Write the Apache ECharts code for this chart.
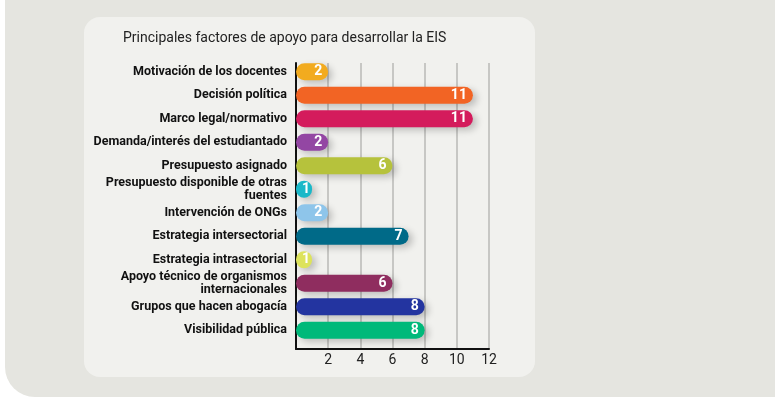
<!DOCTYPE html>
<html>
<head>
<meta charset="utf-8">
<script src="https://cdn.jsdelivr.net/npm/echarts@6/dist/echarts.min.js"></script>
<style>
  html, body { margin: 0; padding: 0; background: #fff; overflow: hidden; }
  .page { position: relative; width: 775px; height: 397px; overflow: hidden; }
  .outer { position: absolute; left: 5px; top: -40px; width: 820px; height: 437px; background: #e5e5e0; border-radius: 30px; }
  .panel { position: absolute; left: 84px; top: 17px; width: 451px; height: 360px; background: #f1f1ee; border-radius: 16px; }
  #chart { position: absolute; left: 0; top: 0; width: 775px; height: 397px; }
</style>
</head>
<body>
<div class="page">
  <div class="outer"></div>
  <div class="panel"></div>
  <div id="chart"></div>
</div>
<script>
// datos
const title = 'Principales factores de apoyo para desarrollar la EIS'
const categories = [
  'Motivación de los docentes',
  'Decisión política',
  'Marco legal/normativo',
  'Demanda/interés del estudiantado',
  'Presupuesto asignado',
  'Presupuesto disponible de otras\nfuentes',
  'Intervención de ONGs',
  'Estrategia intersectorial',
  'Estrategia intrasectorial',
  'Apoyo técnico de organismos\ninternacionales',
  'Grupos que hacen abogacía',
  'Visibilidad pública'
]
const values = [2, 11, 11, 2, 6, 1, 2, 7, 1, 6, 8, 8]
const barColors = [
  '#f2ab1f', '#f26424', '#d41b5c', '#9346a3', '#b6c23c', '#1ab8c8',
  '#8ec5ea', '#006a88', '#dde35c', '#8f2d5f', '#2334a0', '#00b97a'
]
const xTicks = [0, 2, 4, 6, 8, 10, 12]

const chart = echarts.init(document.getElementById('chart'), null, { renderer: 'canvas' })

const font = 'Roboto'
const xMin = xTicks[0]
const xMax = xTicks[xTicks.length - 1]

const option = {
  animation: false,
  backgroundColor: 'transparent',
  title: {
    text: title,
    left: 123,
    top: 31,
    padding: 0,
    textStyle: {
      fontFamily: font,
      fontSize: 14,
      fontWeight: 'normal',
      color: '#222'
    }
  },
  // grid 0: barras y categorías; grid 1: ejes y rejilla
  grid: [
    { left: 296, right: 286, top: 60, bottom: 55 },
    { left: 296, right: 286, top: 63, bottom: 48 }
  ],
  xAxis: [
    {
      gridIndex: 0,
      type: 'value',
      min: xMin,
      max: xMax,
      interval: 2,
      axisLine: { show: false },
      axisTick: { show: false },
      axisLabel: { show: false },
      splitLine: { show: false }
    },
    {
      gridIndex: 1,
      type: 'value',
      min: xMin,
      max: xMax,
      interval: 2,
      axisLine: { show: true, lineStyle: { color: '#111', width: 2 } },
      axisTick: { show: false },
      axisLabel: {
        showMinLabel: false,
        margin: 4,
        fontFamily: font,
        fontSize: 14,
        color: '#222'
      },
      splitLine: { show: true, lineStyle: { color: '#b9b9b6', width: 1.5 } }
    }
  ],
  yAxis: [
    {
      gridIndex: 0,
      type: 'category',
      inverse: true,
      data: categories,
      axisLine: { show: false },
      axisTick: { show: false },
      axisLabel: {
        margin: 9,
        fontFamily: font,
        fontSize: 12.5,
        fontWeight: 'bold',
        color: '#111',
        lineHeight: 13,
        align: 'right'
      }
    },
    {
      gridIndex: 1,
      type: 'value',
      axisLine: { show: true, lineStyle: { color: '#111', width: 2 } },
      axisTick: { show: false },
      axisLabel: { show: false },
      splitLine: { show: false }
    }
  ],
  series: [{
    type: 'bar',
    xAxisIndex: 0,
    yAxisIndex: 0,
    z: 3,
    data: values.map((v, i) => ({
      value: v,
      itemStyle: { color: barColors[i] },
      // en barras cortas la etiqueta va centrada
      label: v < 2
        ? { position: 'inside', offset: [2, 0] }
        : { position: 'insideRight', distance: 6 }
    })),
    barWidth: 17,
    itemStyle: {
      borderRadius: 9,
      shadowColor: 'rgba(0, 0, 0, 0.22)',
      shadowBlur: 7,
      shadowOffsetX: 4,
      shadowOffsetY: 3
    },
    label: {
      show: true,
      color: '#fff',
      fontFamily: font,
      fontSize: 14,
      fontWeight: 'bold'
    }
  }]
}

chart.setOption(option)
</script>
</body>
</html>
